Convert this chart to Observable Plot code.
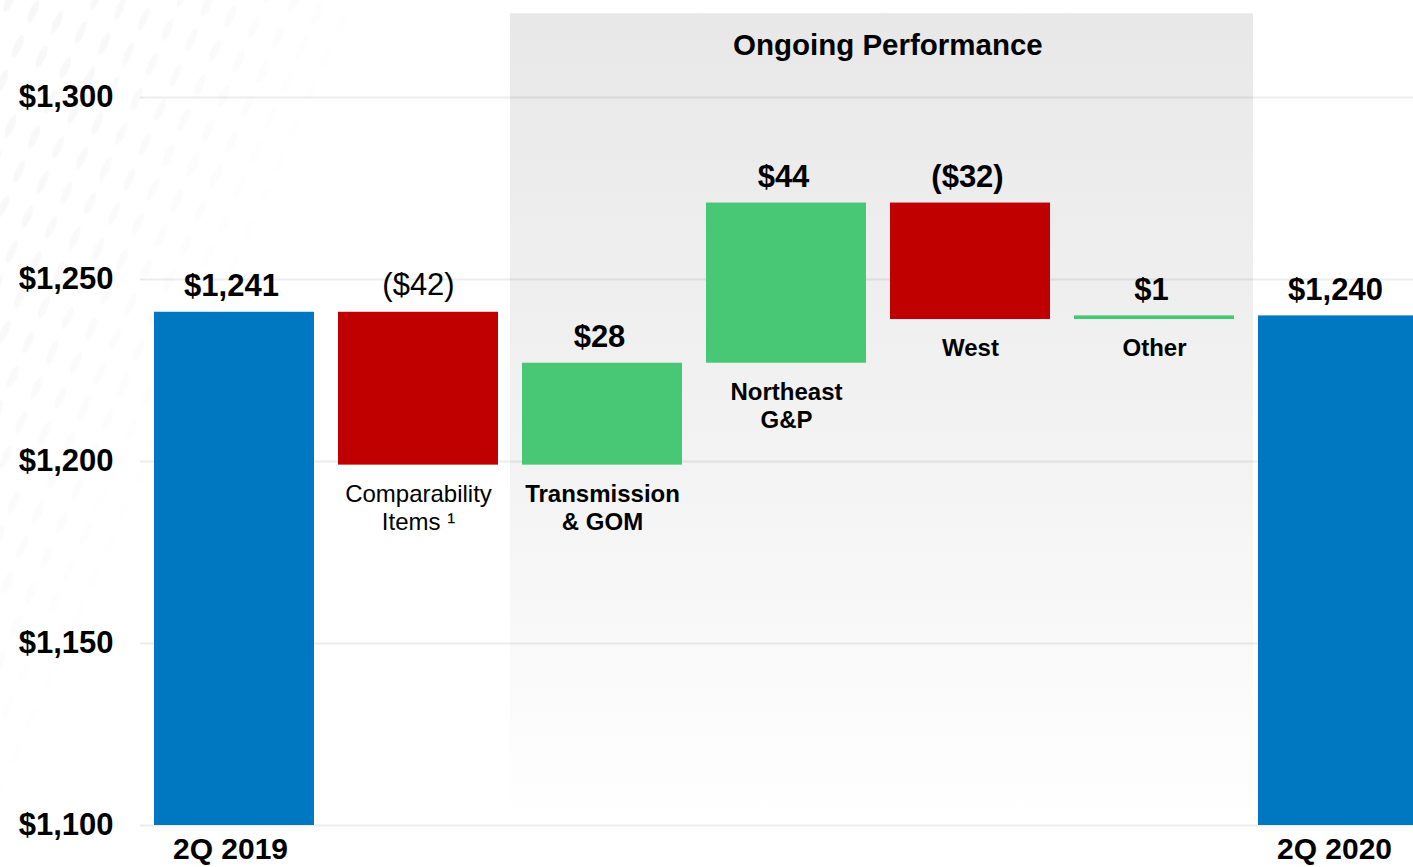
<!DOCTYPE html>
<html><head><meta charset="utf-8">
<script src="https://cdn.jsdelivr.net/npm/d3@7"></script>
<script src="https://cdn.jsdelivr.net/npm/@observablehq/plot@0.6"></script>
<style>
html,body{margin:0;padding:0;background:#fff;overflow:hidden}
#wrap{position:relative;width:1413px;height:867px;overflow:hidden}
#deco{position:absolute;left:-200px;top:-150px;width:700px;height:1200px;
  background-image:radial-gradient(ellipse 4px 13px at 50% 50%, #ececec 0, #ececec 85%, rgba(236,236,236,0) 100%);
  background-size:26px 38px;
  transform:rotate(24deg);transform-origin:50% 50%;
  -webkit-mask-image:linear-gradient(90deg, rgba(0,0,0,0.8) 0%, rgba(0,0,0,0.5) 30%, rgba(0,0,0,0) 55%);
  mask-image:linear-gradient(90deg, rgba(0,0,0,0.8) 0%, rgba(0,0,0,0.5) 30%, rgba(0,0,0,0) 55%);
  opacity:0.55}
#chart{position:absolute;left:0;top:0}
#chart svg{display:block}
</style></head><body><div id="wrap"><div id="deco"></div><div id="chart"></div></div>
<script>
// ---- data ----
const categories = ["2Q 2019", "Comparability\nItems ¹", "Transmission\n& GOM", "Northeast\nG&P", "West", "Other", "2Q 2020"];
const kinds = ["total", "adjustment", "ongoing", "ongoing", "ongoing", "ongoing", "total"];
const changes = [1241, -42, 28, 44, -32, 1, 1240];
const yTicks = [1100, 1150, 1200, 1250, 1300];
const yBase = 1100;
const bandTop = 1323;
const bandTitle = "Ongoing Performance";

// ---- build waterfall rows ----
let running = 0;
const rows = categories.map((c, i) => {
  const v = changes[i];
  let y1, y2;
  if (kinds[i] === "total") { y1 = yBase; y2 = v; running = v; }
  else { y1 = running; y2 = running + v; running = y2; }
  return {category: c, kind: kinds[i], value: v, y1, y2, top: Math.max(y1, y2), bottom: Math.min(y1, y2)};
});
const fmtTotal = d3.format(",");
const labelOf = d => d.kind === "total" ? "$" + fmtTotal(d.value) : (d.value < 0 ? "($" + (-d.value) + ")" : "$" + d.value);
const colorOf = d => d.kind === "total" ? "#0078C1" : (d.value < 0 ? "#C00000" : "#48C774");

const W = 1413, H = 867;
const xRange = [152, 1421], xPad = 0.128;
const step = (xRange[1] - xRange[0]) / (categories.length - xPad);
const font = "'Liberation Sans', Arial, Helvetica, sans-serif";

const defs = () => {
  const d = d3.create("svg:defs");
  const g = d.append("linearGradient").attr("id", "ongoingFade").attr("x1", 0).attr("y1", 0).attr("x2", 0).attr("y2", 1);
  g.append("stop").attr("offset", "0%").attr("stop-color", "#e8e8e8");
  g.append("stop").attr("offset", "55%").attr("stop-color", "#f3f3f3");
  g.append("stop").attr("offset", "100%").attr("stop-color", "#ffffff");
  return d.node();
};

const plot = Plot.plot({
  width: W, height: H,
  marginLeft: 140, marginRight: 0, marginTop: 0, marginBottom: 0,
  x: {domain: categories, range: xRange, paddingInner: xPad, paddingOuter: 0, axis: null},
  y: {domain: [1100, 1300], range: [825, 97], axis: null},
  style: {fontFamily: font, background: "transparent"},
  marks: [
    defs,
    Plot.barY(rows.filter(d => d.kind === "ongoing"), {x: "category", y1: yBase, y2: bandTop, fill: "url(#ongoingFade)", insetLeft: -12, insetRight: -19}),
    Plot.ruleY(yTicks, {stroke: "#000", strokeOpacity: 0.075, strokeWidth: 2}),
    Plot.barY(rows, {x: "category", y1: "y1", y2: "y2", fill: colorOf}),
    // band title
    Plot.text([{category: categories[3], label: bandTitle}], {x: "category", y: bandTop, text: "label", dy: 32, dx: step / 2 + 9, lineAnchor: "middle", fontSize: 29.5, fontWeight: "bold", fill: "#000"}),
    // value labels
    Plot.text(rows.filter(d => d.kind !== "adjustment"), {x: "category", y: "top", text: labelOf, dy: -26, dx: -3, lineAnchor: "middle", fontSize: 31, fontWeight: "bold", fill: "#000"}),
    Plot.text(rows.filter(d => d.kind === "adjustment"), {x: "category", y: "top", text: labelOf, dy: -27, dx: 0, lineAnchor: "middle", fontSize: 31, fontWeight: "normal", fill: "#000"}),
    // category labels below step bars
    Plot.text(rows.filter(d => d.kind === "ongoing"), {x: "category", y: "bottom", text: "category", dy: 17, lineAnchor: "top", lineHeight: 1.17, fontSize: 24, fontWeight: "bold", fill: "#000"}),
    Plot.text(rows.filter(d => d.kind === "adjustment"), {x: "category", y: "bottom", text: "category", dy: 17, lineAnchor: "top", lineHeight: 1.17, fontSize: 24, fontWeight: "normal", fill: "#000"}),
    // total labels at bottom
    Plot.text(rows.filter(d => d.kind === "total"), {x: "category", y: yBase, text: "category", dy: 24, dx: -4, lineAnchor: "middle", fontSize: 30, fontWeight: "bold", fill: "#000"}),
    // y tick labels
    Plot.text(yTicks, {y: d => d, frameAnchor: "left", text: d => "$" + fmtTotal(d), dx: -27, textAnchor: "end", lineAnchor: "middle", fontSize: 31, fontWeight: "bold", fill: "#000"})
  ]
});
document.getElementById("chart").appendChild(plot);
</script>
</body></html>
